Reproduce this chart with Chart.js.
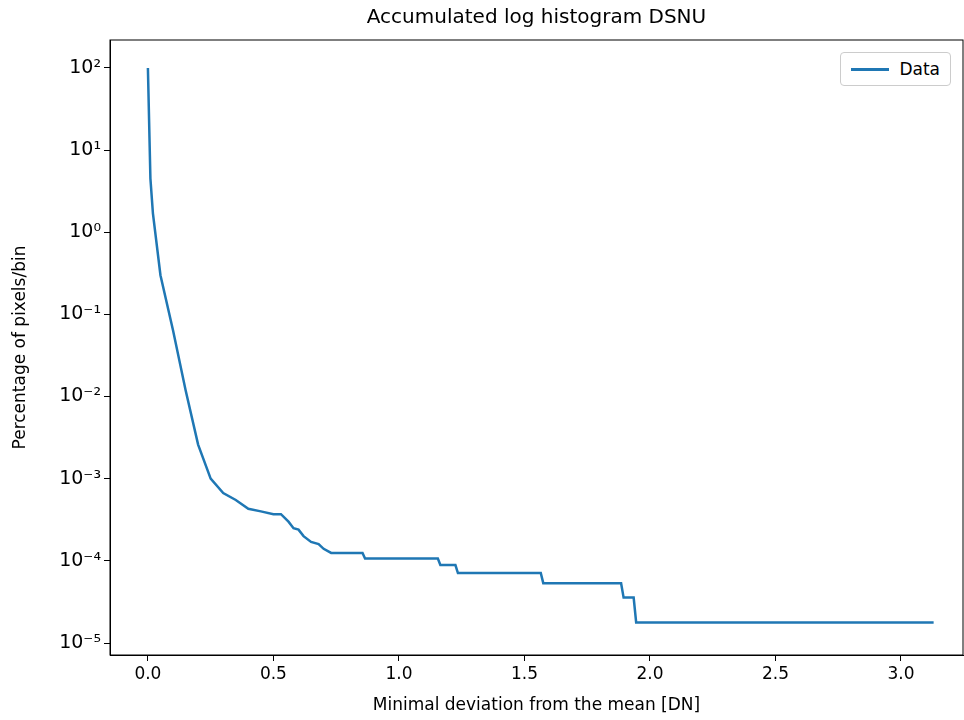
<!DOCTYPE html>
<html><head><meta charset="utf-8">
<script src="https://cdn.jsdelivr.net/npm/chart.js@4"></script>
<style>
body{margin:0;background:#fff;font-family:"DejaVu Sans",sans-serif;}
#wrap{position:relative;width:964px;height:720px;}
#title{position:absolute;top:4px;left:110px;width:853px;text-align:center;font-size:20px;color:#000;}
#legend{position:absolute;top:52px;right:13px;border:1px solid #ccc;border-radius:4px;padding:6px 10px;font-size:17px;display:flex;align-items:center;background:#fff;}
#legend span.l{display:inline-block;width:38px;height:3px;background:#1f77b4;margin-right:10px;}
</style></head><body>
<div id="wrap">
<canvas id="c" width="964" height="720"></canvas>
<div id="title">Accumulated log histogram DSNU</div>
<div id="legend"><span class="l"></span>Data</div>
</div>
<script>
const xValues = [0, 0.01, 0.02, 0.05, 0.1, 0.15, 0.2, 0.25, 0.3, 0.35, 0.4, 0.45, 0.5, 0.53, 0.56, 0.58, 0.6, 0.62, 0.65, 0.68, 0.7, 0.73, 0.855, 0.865, 1.155, 1.165, 1.225, 1.235, 1.565, 1.575, 1.885, 1.895, 1.935, 1.945, 3.13];
const yValues = [100, 4.5, 1.7, 0.3, 0.064, 0.012, 0.0026, 0.001, 6.7e-4, 5.5e-4, 4.3e-4, 4e-4, 3.7e-4, 3.7e-4, 3e-4, 2.5e-4, 2.4e-4, 2e-4, 1.7e-4, 1.6e-4, 1.4e-4, 1.25e-4, 1.25e-4, 1.07e-4, 1.07e-4, 8.9e-5, 8.9e-5, 7.1e-5, 7.1e-5, 5.35e-5, 5.35e-5, 3.57e-5, 3.57e-5, 1.78e-5, 1.78e-5];
const xTicks = [0, 0.5, 1, 1.5, 2, 2.5, 3];
const yTicks = [1e-5, 1e-4, 1e-3, 1e-2, 1e-1, 1, 10, 100];

const sup = {'-':'⁻','0':'⁰','1':'¹','2':'²','3':'³','4':'⁴','5':'⁵'};
const fmtPow = v => '10' + String(Math.round(Math.log10(v))).split('').map(ch => sup[ch]).join('');

new Chart(document.getElementById('c'), {
  type: 'line',
  data: { datasets: [{ data: xValues.map((x, i) => ({x, y: yValues[i]})), borderColor: '#1f77b4', borderWidth: 2.5, pointRadius: 0, tension: 0 }] },
  options: {
    responsive: false, animation: false,
    layout: { padding: { top: 40, right: 1, left: 6, bottom: 0 } },
    plugins: { legend: { display: false }, title: { display: false } },
    scales: {
      x: {
        type: 'linear', min: -0.151, max: 3.247,
        afterBuildTicks: s => { s.ticks = xTicks.map(v => ({value: v})); },
        afterFit: s => { s.height = 65; },
        ticks: { color: '#000', font: { size: 17, family: 'DejaVu Sans' }, callback: v => v.toFixed(1), maxRotation: 0 },
        grid: { drawOnChartArea: false, tickLength: 6, color: '#000' },
        border: { color: '#000', width: 1 },
        title: { display: true, text: 'Minimal deviation from the mean [DN]', color: '#000', font: { size: 17, family: 'DejaVu Sans' }, padding: { top: 2 } }
      },
      y: {
        type: 'logarithmic', min: Math.pow(10, -5.146), max: Math.pow(10, 2.34),
        afterBuildTicks: s => { s.ticks = yTicks.map(v => ({value: v})); },
        afterFit: s => { s.width = 104; },
        ticks: { color: '#000', font: { size: 19, family: 'DejaVu Sans' }, callback: v => fmtPow(v) },
        grid: { drawOnChartArea: false, tickLength: 6, color: '#000' },
        border: { color: '#000', width: 1 },
        title: { display: true, text: 'Percentage of pixels/bin', color: '#000', font: { size: 17, family: 'DejaVu Sans' } }
      }
    }
  },
  plugins: [{ id: 'frame', afterDraw(c) { const a = c.chartArea, ctx = c.ctx; ctx.save(); ctx.strokeStyle = '#000'; ctx.lineWidth = 1; ctx.strokeRect(a.left, a.top, a.right - a.left, a.bottom - a.top); ctx.restore(); } }]
});
</script>
</body></html>
